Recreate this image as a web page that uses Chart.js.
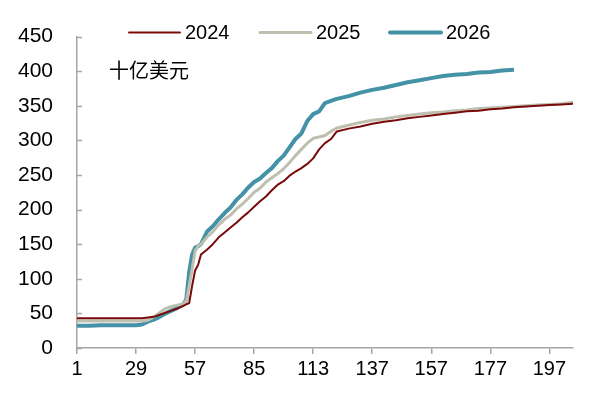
<!DOCTYPE html>
<html>
<head>
<meta charset="utf-8">
<script src="https://cdn.jsdelivr.net/npm/chart.js@4/dist/chart.umd.min.js"></script>
<style>
  html, body { margin: 0; padding: 0; background: #fff; }
  #wrap { width: 612px; height: 402px; }
</style>
</head>
<body>
<div id="wrap"><canvas id="grafico" width="612" height="402"></canvas></div>
<script>
// position along the x axis (category number, 20 per labelled tick)
const dayIdx = [0, 4, 8, 12, 16, 20, 22, 24, 26, 28, 30, 32, 34, 36, 37, 38, 39, 40, 41, 42,
  44, 46, 48, 50, 52, 54, 56, 58, 60, 62, 64, 66, 68, 70, 72, 74, 76, 78, 80, 82, 84, 86, 88,
  92, 96, 100, 104, 108, 112, 116, 120, 124, 128, 132, 136, 140, 144, 148, 152, 156, 160, 164, 168]

const xTickLabels = ['1', '29', '57', '85', '113', '137', '157', '177', '197']

const serie2024 = [43, 43, 43, 43, 43, 43, 43, 44, 45, 48, 51, 54, 57, 61, 63, 65, 90, 112, 120, 135,
  142, 150, 160, 167, 174, 181, 189, 196, 204, 212, 219, 228, 236, 241, 249, 255, 260, 266, 274, 287, 296, 302, 313,
  317, 320, 324, 327, 329, 332, 334, 336, 338, 340, 342, 343, 345, 346, 348, 349, 350, 351, 352, 353]

const serie2025 = [39, 39, 39, 39, 39, 39, 39, 40, 45, 51, 57, 60, 62, 64, 68, 90, 114, 140, 147, 150,
  160, 168, 178, 186, 192, 201, 208, 216, 225, 231, 240, 246, 252, 259, 268, 278, 287, 296, 303, 305, 307, 313, 318,
  322, 326, 329, 331, 334, 336, 338, 340, 341, 343, 344, 346, 347, 348, 349, 350, 351, 352, 353, 355]

const serie2026 = [32, 32, 33, 33, 33, 33, 34, 38, 41, 45, 50, 54, 58, 63, 70, 110, 135, 145, 147, 150,
  168, 176, 186, 195, 203, 214, 222, 232, 240, 245, 253, 260, 270, 278, 290, 302, 310, 328, 338, 342, 354, 357, 360,
  364, 369, 373, 376, 380, 384, 387, 390, 393, 395, 396, 398, 399, 401, 402]

const seriesNames = ['2024', '2025', '2026']
const seriesColors = ['#7a0a0a', '#bfbfb0', '#4392a6']
const seriesWidths = [2, 3, 4]

const unitLabel = '十亿美元'

const toPoints = (vals) => vals.map((v, i) => ({ x: dayIdx[i], y: v }))

// y ticks drawn inward + legend and unit text drawn over the plot
const extras = {
  id: 'extras',
  afterDraw(chart) {
    const ctx = chart.ctx
    const y = chart.scales.y
    ctx.save()
    ctx.strokeStyle = '#a6a6a6'
    ctx.lineWidth = 1.5
    y.ticks.forEach(t => {
      const py = Math.round(y.getPixelForValue(t.value)) + 0.5
      ctx.beginPath()
      ctx.moveTo(y.right, py)
      ctx.lineTo(y.right + 5, py)
      ctx.stroke()
    })

    const legendX = [129, 260, 390]
    ctx.font = '20px "Liberation Sans", Arial, sans-serif'
    ctx.textBaseline = 'middle'
    ctx.fillStyle = '#000'
    chart.data.datasets.forEach((ds, i) => {
      ctx.strokeStyle = ds.borderColor
      ctx.lineWidth = ds.borderWidth
      ctx.lineCap = 'round'
      ctx.beginPath()
      ctx.moveTo(legendX[i], 32.5)
      ctx.lineTo(legendX[i] + 51, 32.5)
      ctx.stroke()
      ctx.fillText(ds.label, legendX[i] + 56, 33)
    })

    ctx.font = '20px "Noto Sans CJK SC", sans-serif'
    ctx.fillText(unitLabel, 109, 70)
    ctx.restore()
  }
}

const ctx = document.getElementById('grafico').getContext('2d')

const chartGraph = new Chart(ctx, {
  type: 'line',
  data: {
    datasets: [serie2024, serie2025, serie2026].map((vals, i) => ({
      label: seriesNames[i],
      data: toPoints(vals),
      borderColor: seriesColors[i],
      borderWidth: seriesWidths[i],
      backgroundColor: 'transparent',
      pointRadius: 0,
      tension: 0,
      borderJoinStyle: 'round'
    }))
  },
  options: {
    responsive: false,
    animation: false,
    layout: { padding: { left: 0, right: 39, top: 26, bottom: 0 } },
    plugins: {
      legend: { display: false },
      tooltip: { enabled: false }
    },
    scales: {
      x: {
        type: 'linear',
        min: 0,
        max: 168,
        afterFit: (scale) => { scale.height = 54 },
        grid: {
          drawOnChartArea: false,
          color: '#a6a6a6',
          lineWidth: 1.5,
          tickLength: 6
        },
        border: { color: '#a6a6a6', width: 1.5 },
        ticks: {
          stepSize: 20,
          includeBounds: false,
          autoSkip: false,
          maxRotation: 0,
          padding: 3,
          color: '#000',
          font: { family: '"Liberation Sans", Arial, sans-serif', size: 20 },
          callback: (v) => (v % 20 === 0 ? xTickLabels[v / 20] : '')
        }
      },
      y: {
        min: 0,
        max: 450,
        afterFit: (scale) => { scale.width = 77 },
        grid: { drawOnChartArea: false, drawTicks: false },
        border: { color: '#a6a6a6', width: 1.5 },
        ticks: {
          stepSize: 50,
          padding: 24,
          color: '#000',
          font: { family: '"Liberation Sans", Arial, sans-serif', size: 21 }
        }
      }
    }
  },
  plugins: [extras]
})
</script>
</body>
</html>
